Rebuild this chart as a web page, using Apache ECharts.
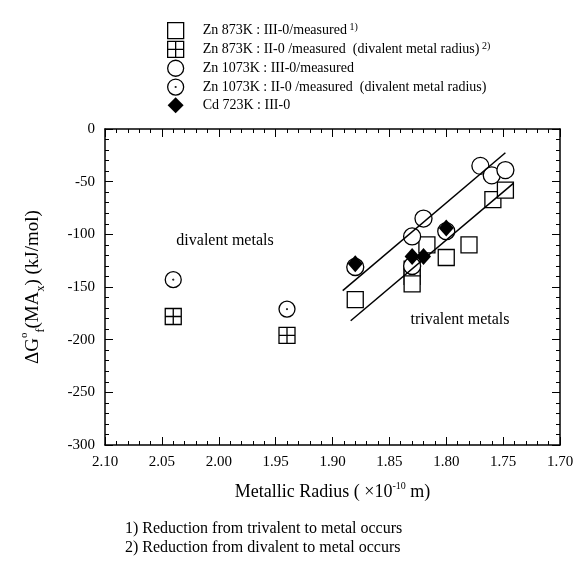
<!DOCTYPE html>
<html><head><meta charset="utf-8">
<script src="https://cdn.jsdelivr.net/npm/echarts@6/dist/echarts.min.js"></script>
<style>html,body{margin:0;padding:0;background:#fff}#c{width:578px;height:566px}</style>
</head><body><div id="c"></div>
<script>
// ---- data ----
const seriesNames = [
  'Zn 873K : III-0/measured',
  'Zn 873K : II-0 /measured  (divalent metal radius)',
  'Zn 1073K : III-0/measured',
  'Zn 1073K : II-0 /measured  (divalent metal radius)',
  'Cd 723K : III-0'
];
const legendNotes = ['1)', '2)', '', '', ''];
const zn873III = [[1.880,-162],[1.830,-133],[1.830,-140],[1.830,-147],[1.817,-110],[1.800,-122],[1.780,-110],[1.759,-67],[1.748,-58]];
const zn873II = [[2.040,-178],[1.940,-196]];
const zn1073III = [[1.880,-131],[1.830,-102],[1.830,-130],[1.820,-85],[1.800,-97],[1.770,-35],[1.760,-44],[1.748,-39]];
const zn1073II = [[2.040,-143],[1.940,-171]];
const cd723III = [[1.880,-128],[1.830,-121],[1.820,-121],[1.800,-94]];
const upperLine = [[1.891,-153.5],[1.748,-22.5]];
const lowerLine = [[1.884,-182],[1.741,-51.6]];
const xMin = 1.70, xMax = 2.10, xStep = 0.05;
const yMin = -300, yMax = 0, yStep = 50;
const annotations = ['divalent metals', 'trivalent metals'];
const footnotes = ['1) Reduction from trivalent to metal occurs', '2) Reduction from divalent to metal occurs'];

// ---- styling ----
const FF = '"Liberation Serif", "Times New Roman", serif';
const SQ_PLUS = 'path://M0,0L20,0L20,20L0,20Z M10,0L10,20 M0,10L20,10';
const CIRC_DOT = 'path://M20,10A10,10,0,1,1,0,10A10,10,0,1,1,20,10Z M10.5,10A0.5,0.5,0,1,1,9.5,10A0.5,0.5,0,1,1,10.5,10Z';
const openStyle = {color:'#fff', borderColor:'#000', borderWidth:1.3, opacity:1};
const filledStyle = {color:'#000', borderColor:'#000', borderWidth:0, opacity:1};
const symbols = ['rect', SQ_PLUS, 'circle', CIRC_DOT, 'diamond'];
const sizes = [16, 16, 17, 16, [15,17]];
const styles = [openStyle, openStyle, openStyle, openStyle, filledStyle];
const datasets = [zn873III, zn873II, zn1073III, zn1073II, cd723III];

const chart = echarts.init(document.getElementById('c'), null, {renderer:'canvas'});

function axisCommon(){
  return {
    type:'value',
    axisLine:{show:true, onZero:false, lineStyle:{color:'#000', width:1.5}},
    axisTick:{show:true, inside:true, length:8, lineStyle:{color:'#000', width:1}},
    minorTick:{show:true, splitNumber:5, length:4, lineStyle:{color:'#000', width:1}},
    splitLine:{show:false},
    minorSplitLine:{show:false}
  };
}

const scatterSeries = datasets.map((d,i)=>({
  type:'scatter', name:seriesNames[i], data:d, symbol:symbols[i], symbolSize:sizes[i],
  itemStyle:styles[i], emphasis:{disabled:true}, z:2+i, animation:false
}));
const lineSeries = [upperLine, lowerLine].map(d=>({
  type:'line', data:d, symbol:'none', lineStyle:{color:'#000', width:1.5}, z:10,
  emphasis:{disabled:true}, animation:false, silent:true
}));

chart.setOption({
  animation:false,
  backgroundColor:'#fff',
  grid:{left:105, right:18, top:129, bottom:121, containLabel:false},
  legend:{
    orient:'vertical', left:162, top:17, itemWidth:16, itemHeight:16, itemGap:1.5,
    selectedMode:false,
    data: seriesNames.map((n,i)=>({name:n, icon:symbols[i], itemStyle:styles[i]})),
    formatter: name => {
      const i = seriesNames.indexOf(name);
      return '{n|' + name + '}' + (legendNotes[i] ? '{s| ' + legendNotes[i] + '}' : '');
    },
    textStyle:{
      fontFamily:FF, fontSize:14, color:'#000', padding:[0,0,0,14],
      rich:{
        n:{fontFamily:FF, fontSize:14, color:'#000', lineHeight:17},
        s:{fontFamily:FF, fontSize:10, color:'#000', verticalAlign:'top', lineHeight:10}
      }
    }
  },
  xAxis:[
    Object.assign(axisCommon(), {
      min:xMin, max:xMax, interval:xStep, inverse:true, position:'bottom',
      axisLabel:{show:true, margin:10, fontFamily:FF, fontSize:15, color:'#000', formatter:v=>v.toFixed(2)},
      name:'{t|Metallic Radius ( ×10}{s|-10}{t| m)}', nameLocation:'middle', nameGap:36,
      nameTextStyle:{rich:{
        t:{fontFamily:FF, fontSize:18, color:'#000', lineHeight:22},
        s:{fontFamily:FF, fontSize:10, color:'#000', verticalAlign:'top', lineHeight:12}
      }}
    }),
    Object.assign(axisCommon(), {
      min:xMin, max:xMax, interval:xStep, inverse:true, position:'top',
      axisLabel:{show:false}
    })
  ],
  yAxis:[
    Object.assign(axisCommon(), {
      min:yMin, max:yMax, interval:yStep, position:'left',
      axisLabel:{show:true, margin:10, fontFamily:FF, fontSize:15, color:'#000'},
      name:'{t|ΔG}{sup|o}{sub|f}{t|(MA}{sub|x}{t|) (kJ/mol)}', nameLocation:'middle', nameGap:58,
      nameTextStyle:{rich:{
        t:{fontFamily:FF, fontSize:19, color:'#000', lineHeight:28},
        sup:{fontFamily:FF, fontSize:11, color:'#000', verticalAlign:'top', lineHeight:11},
        sub:{fontFamily:FF, fontSize:12, color:'#000', verticalAlign:'bottom', lineHeight:12}
      }}
    }),
    Object.assign(axisCommon(), {
      min:yMin, max:yMax, interval:yStep, position:'right',
      axisLabel:{show:false}
    })
  ],
  graphic:[
    {type:'text', x:225, y:241, style:{text:annotations[0], fontFamily:FF, fontSize:16, fill:'#000', align:'center', verticalAlign:'middle'}},
    {type:'text', x:460, y:320, style:{text:annotations[1], fontFamily:FF, fontSize:16, fill:'#000', align:'center', verticalAlign:'middle'}},
    {type:'text', x:125, y:529, style:{text:footnotes[0], fontFamily:FF, fontSize:16, fill:'#000', align:'left', verticalAlign:'middle'}},
    {type:'text', x:125, y:548, style:{text:footnotes[1], fontFamily:FF, fontSize:16, fill:'#000', align:'left', verticalAlign:'middle'}}
  ],
  series: scatterSeries.concat(lineSeries)
});
</script></body></html>
